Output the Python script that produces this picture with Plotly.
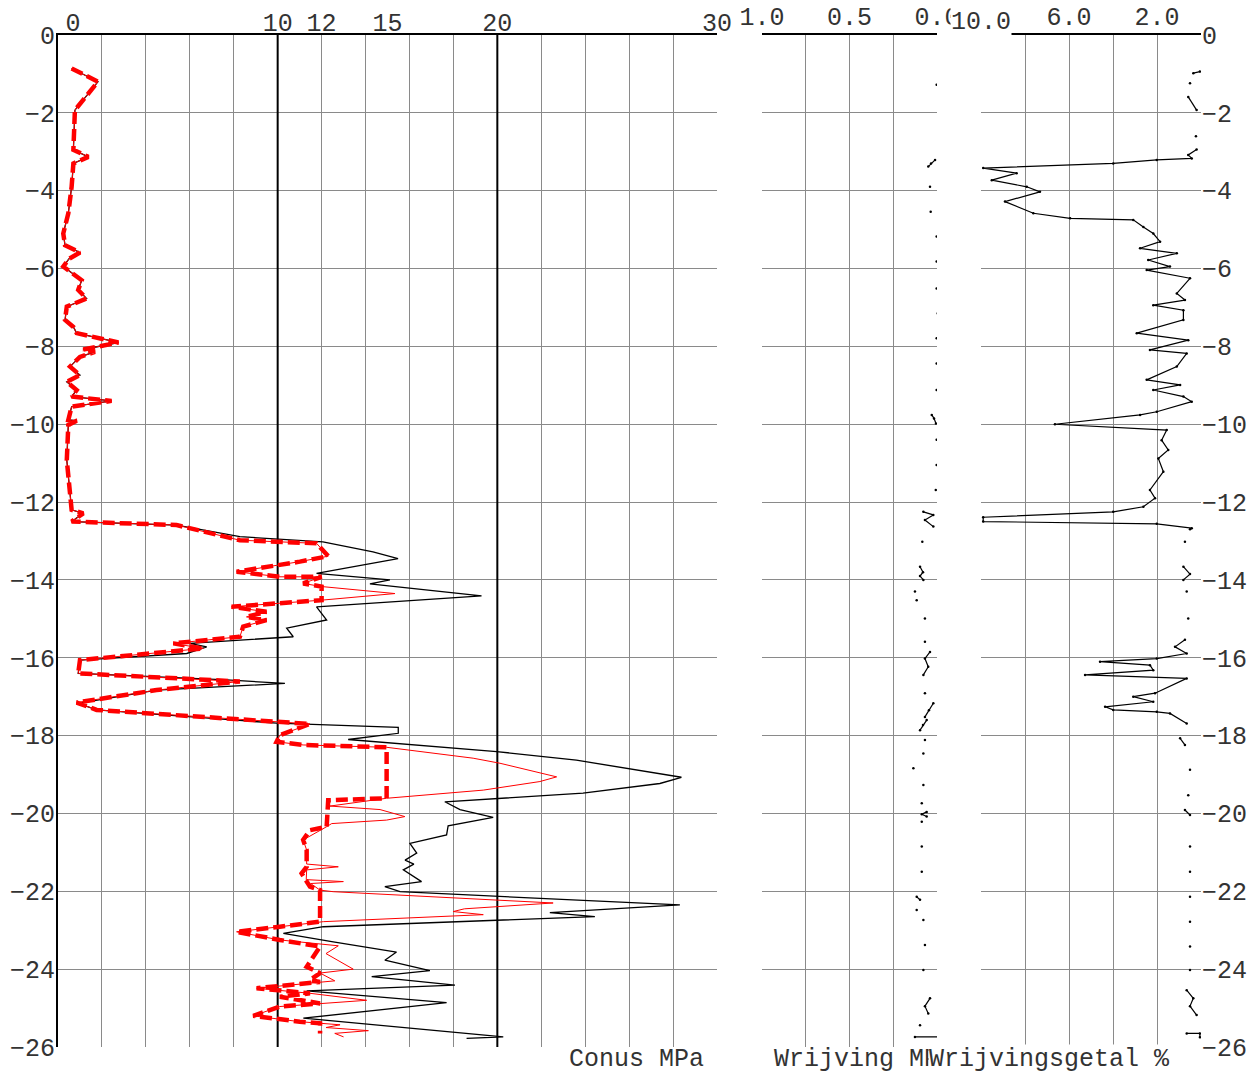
import plotly.graph_objects as go

# ---------------- data ----------------
# shared upper part of cone resistance (black + red dashed), depth m (positive down), MPa
up_depth = [0.86, 1.2, 1.93, 2.5, 2.95, 3.13, 3.3, 3.9, 4.58, 5.1, 5.4, 5.59, 5.75, 5.95, 6.21, 6.3,
            6.55, 6.77, 6.98, 7.32, 7.5, 7.66, 7.9, 8.08, 8.14, 8.27, 8.52, 8.74, 8.91, 9.12, 9.29,
            9.4, 9.55, 9.89, 9.91, 10.02, 10.92, 12.2, 12.29, 12.45, 12.5]
up_qc = [0.62, 1.82, 0.77, 0.72, 0.7, 1.38, 0.7, 0.62, 0.47, 0.24, 0.32, 1.0, 0.5, 0.24, 0.85, 1.08,
         0.92, 1.3, 0.4, 0.32, 0.7, 0.85, 2.75, 1.15, 1.68, 1.0, 0.55, 1.0, 0.4, 0.85, 0.62,
         2.44, 0.62, 0.47, 0.85, 0.47, 0.4, 0.62, 1.15, 0.7, 0.62]

# black cone resistance, lower part
qc_depth = [12.59, 12.89, 13.02, 13.28, 13.45, 13.83, 14.0, 14.1, 14.41, 14.69, 15.03, 15.24, 15.46,
            15.63, 15.72, 15.89, 16.06, 16.4, 16.57, 16.66, 16.83, 17.17, 17.34, 17.68, 17.79, 17.94,
            18.1, 18.41, 18.63, 18.93, 19.07, 19.23, 19.48, 19.7, 19.9, 20.1, 20.32, 20.55, 20.77,
            21.02, 21.2, 21.3, 21.45, 21.75, 21.88, 22.01, 22.35, 22.55, 22.65, 22.91, 23.08, 23.3,
            23.56, 23.77, 24.04, 24.19, 24.41, 24.56, 24.86, 25.26, 25.74, 25.78]
qc_val = [5.4, 8.28, 12.06, 14.34, 15.48, 11.77, 15.11, 14.2, 19.28, 11.77, 12.23, 10.41, 10.71,
          6.0, 6.77, 5.86, 1.0, 0.92, 7.68, 10.33, 4.49, 0.92, 1.76, 9.95, 15.49, 15.49,
          13.21, 19.97, 23.6, 26.8, 28.38, 27.4, 23.9, 17.61, 18.3, 19.81, 17.76, 17.69, 16.02,
          16.33, 15.8, 16.2, 15.72, 16.55, 14.88, 15.57, 28.31, 22.39, 24.44, 12.08, 10.26, 12.53,
          15.41, 14.88, 16.93, 14.28, 18.07, 11.32, 17.69, 11.17, 20.27, 18.6]

# red dashed (limited cone resistance), lower part
qd_depth = [12.59, 12.98, 13.06, 13.39, 13.53, 13.79, 13.92, 13.92, 14.09, 14.17, 14.52, 14.69, 14.82,
            14.95, 15.03, 15.2, 15.46, 15.63, 15.76, 16.06, 16.4, 16.61, 16.83, 17.15, 17.34, 17.7,
            17.86, 17.99, 18.16, 18.24, 18.3, 19.61, 19.66, 20.34, 20.43, 20.68, 20.94, 21.37, 21.54,
            21.88, 21.97, 22.78, 22.91, 23.04, 23.25, 23.42, 23.94, 24.1, 24.28, 24.33, 24.49, 24.62,
            24.71, 24.88, 24.96, 25.2, 25.35, 25.39, 25.65]
qd_val = [5.4, 8.28, 11.77, 12.3, 11.01, 8.13, 10.1, 12.0, 11.16, 12.0, 12.0, 7.9, 9.49,
          8.58, 9.49, 8.43, 8.28, 5.25, 6.61, 1.0, 0.92, 8.28, 4.49, 0.85, 1.76, 11.47,
          10.71, 10.1, 9.95, 11.16, 14.96, 14.96, 12.3, 12.23, 11.47, 11.16, 11.32, 11.32, 11.09,
          11.47, 11.93, 11.93, 10.1, 8.13, 10.1, 11.93, 11.32, 11.93, 11.47, 11.93, 9.04, 11.47,
          10.1, 11.93, 10.1, 8.89, 11.01, 11.93, 11.93]

# red thin (corrected cone resistance), lower part
qt_depth = [12.59, 12.98, 13.06, 13.39, 13.53, 13.79, 13.92, 13.92, 14.09, 14.17, 14.35, 14.52, 14.69,
            14.82, 14.95, 15.03, 15.2, 15.46, 15.63, 15.76, 16.06, 16.4, 16.61, 16.83, 17.15, 17.34,
            17.7, 17.86, 17.99, 18.16, 18.24, 18.3, 18.58, 18.71, 18.88, 19.06, 19.18, 19.4, 19.61,
            19.81, 19.9, 20.08, 20.17, 20.26, 20.34, 20.68, 20.94, 21.3, 21.37, 21.45, 21.7, 21.75,
            21.8, 21.97, 22.01, 22.3, 22.45, 22.52, 22.6, 22.78, 22.91, 23.04, 23.25, 23.4, 23.6,
            24.0, 24.1, 24.3, 24.49, 24.62, 24.8, 24.96, 25.2, 25.35, 25.43, 25.5, 25.58, 25.65, 25.74]
qt_val = [5.4, 8.28, 11.77, 12.3, 11.01, 8.13, 10.1, 12.0, 11.16, 12.0, 15.34, 12.0, 7.9,
          9.49, 8.58, 9.49, 8.43, 8.28, 5.25, 6.61, 1.0, 0.92, 8.28, 4.49, 0.85, 1.76,
          11.47, 10.71, 10.1, 9.95, 11.16, 14.96, 18.9, 20.12, 21.33, 22.7, 21.94, 19.36, 14.96,
          12.38, 14.66, 15.79, 14.96, 12.46, 12.23, 11.16, 11.32, 11.32, 12.76, 11.32, 11.3, 12.99,
          11.5, 11.93, 12.53, 22.54, 18.5, 17.99, 19.36, 12.08, 10.1, 8.13, 10.1, 12.76, 12.2,
          13.44, 11.93, 12.6, 9.04, 11.47, 14.05, 10.1, 8.89, 11.01, 12.84, 12.2, 14.13, 12.6, 13.0]

# sleeve friction (Wrijving, MPa); None separates fragments
fr_depth = [1.28, None, 1.94, None, 2.6, None, 3.21, 3.3, 3.38, None, 3.9, None, 4.54, None, 5.18, None,
            5.82, None, 6.51, None, 7.15, None, 7.79, None, 8.44, None, 9.12, None, 9.76, 9.85, 9.98,
            None, 10.4, None, 11.05, None, 11.69, None, 12.25, 12.33, 12.46, 12.63, None, 13.02, None,
            13.66, 13.8, 13.9, 14.0, None, 14.3, None, 14.52, None, 14.99, None, 15.59, None,
            15.85, 16.02, 16.23, 16.44, None, 16.91, None, 17.17, 17.35, 17.52, None, 17.6, 17.73, 17.86,
            None, 18.11, None, 18.46, None, 18.84, None, 19.27, None, 19.74, None, 19.96, 20.02, 20.08,
            None, 20.21, None, 20.85, None, 21.5, None, 22.14, 22.22, None, 22.48, None, 22.74, None,
            23.38, None, 24.02, None, 24.75, 24.95, 25.14, None, 25.44, None, 25.74, 25.74, 25.82]
fr_val = [0.002, None, -0.011, None, -0.011, None, 0.011, 0.034, 0.05, None, 0.04, None, 0.036, None, 0.002, None,
          0.002, None, 0.002, None, -0.004, None, 0.002, None, 0.002, None, 0.002, None, 0.03, 0.017, 0.006,
          None, 0.002, None, 0.002, None, 0.007, None, 0.078, 0.021, 0.069, 0.021, None, 0.084, None,
          0.097, 0.08, 0.097, 0.078, None, 0.126, None, 0.116, None, 0.069, None, 0.069, None,
          0.04, 0.069, 0.05, 0.078, None, 0.069, None, 0.021, 0.046, 0.069, None, 0.059, 0.08, 0.097,
          None, 0.069, None, 0.078, None, 0.135, None, 0.078, None, 0.087, None, 0.059, 0.087, 0.059,
          None, 0.087, None, 0.087, None, 0.087, None, 0.116, 0.097, None, 0.116, None, 0.078, None,
          0.069, None, 0.078, None, 0.04, 0.069, 0.05, None, 0.097, None, 0.126, -0.007, -0.008]

# friction ratio (Wrijvingsgetal, %)
rf_depth = [0.94, 0.98, None, 1.24, None, 1.59, 1.93, None, 2.6, None,
            2.94, 3.08, 3.17, 3.21, 3.3, 3.42, 3.55, 3.73, 3.9, 4.03, 4.28, 4.58, 4.71, 4.75, 4.93,
            5.1, 5.31, 5.48, 5.61, 5.78, 5.95, 6.04, 6.25, 6.64, 6.81, 6.94, 7.07, 7.32, 7.66, 7.84,
            8.09, 8.18, 8.52, 8.86, 8.99, 9.12, 9.29, 9.42, 9.68, 9.76, 10.0, 10.15, 10.41, 10.66,
            10.88, 11.22, 11.69, 11.9, 12.12, 12.25, 12.39, 12.5, 12.56, 12.67, 12.7, None,
            13.02, None, 13.66, 13.85, 14.0, None, 14.3, None, 14.99, None,
            15.54, 15.72, 15.89, 16.02, 16.1, 16.19, 16.32, 16.44, 16.53, 16.91, 17.0, 17.13, 17.26,
            17.34, 17.39, 17.43, 17.69, None, 18.07, 18.24, None, 18.88, None, 19.53, None,
            19.91, 20.04, None, 20.85, None, 21.5, None, 22.14, None, 22.78, None, 23.42, None,
            24.02, None, 24.54, 24.75, 24.95, 25.18, None, 25.65, 25.65, 25.75]
rf_val = [0.05, 0.35, None, 0.5, None, 0.58, 0.2, None, 0.23, None,
          0.2, 0.58, 0.42, 2.01, 3.99, 9.9, 8.38, 9.51, 7.92, 7.32, 8.91, 7.62, 5.95, 3.08, 2.62,
          2.17, 1.86, 2.77, 1.1, 2.4, 1.41, 2.47, 0.5, 1.1, 0.73, 2.17, 0.8, 0.8, 2.92, 0.58,
          2.32, 0.65, 1.1, 2.47, 0.95, 2.17, 0.8, 0.42, 2.01, 2.77, 6.64, 1.56, 1.79, 1.49,
          1.94, 1.71, 2.32, 2.09, 2.62, 3.99, 9.9, 9.9, 2.01, 0.42, 0.5, None,
          0.73, None, 0.8, 0.5, 0.8, None, 0.65, None, 0.58, None,
          0.73, 1.18, 0.65, 2.01, 4.59, 2.32, 2.17, 5.27, 0.65, 2.09, 3.08, 2.17, 4.36,
          3.99, 2.01, 1.41, 0.65, None, 0.95, 0.73, None, 0.5, None, 0.58, None,
          0.73, 0.5, None, 0.5, None, 0.5, None, 0.5, None, 0.5, None, 0.5, None,
          0.5, None, 0.65, 0.35, 0.5, 0.2, None, 0.65, 0.05, 0.05]

depth_ticks = list(range(0, -27, -2))
qc_tick_vals = [0, 10, 12, 15, 20, 30]
qc_tick_text = ["\u00a0\u00a00", "10", "12", "15", "20", "30"]
fr_tick_vals = [1.0, 0.75, 0.5, 0.25, 0.0]
fr_tick_text = ["1.0", "", "0.5", "", "0.0"]
rf_tick_vals = [10, 8, 6, 4, 2, 0]
rf_tick_text = ["", "", "6.0", "", "2.0", ""]


def neg(lst):
    return [None if v is None else -v for v in lst]


W, H = 1253, 1075
FONT = "Liberation Mono"
GRID = "#8a8a8a"

fig = go.Figure()

# black cone resistance
fig.add_trace(go.Scatter(x=up_qc + qc_val, y=neg(up_depth + qc_depth), mode="lines",
                         line=dict(color="black", width=1.3), xaxis="x", yaxis="y", showlegend=False))
# red thin
fig.add_trace(go.Scatter(x=up_qc + qt_val, y=neg(up_depth + qt_depth), mode="lines",
                         line=dict(color="#ff0000", width=1), xaxis="x", yaxis="y", showlegend=False))
# red dashed
fig.add_trace(go.Scatter(x=up_qc + qd_val, y=neg(up_depth + qd_depth), mode="lines",
                         line=dict(color="#ff0000", width=4.5, dash="12px,5px"),
                         xaxis="x", yaxis="y", showlegend=False))
# dummy for overlay label axis
fig.add_trace(go.Scatter(x=[None], y=[None], xaxis="x4", yaxis="y", showlegend=False))
# friction
fig.add_trace(go.Scatter(x=fr_val, y=neg(fr_depth), mode="lines+markers",
                         line=dict(color="black", width=1.2), marker=dict(color="black", size=2.5),
                         xaxis="x2", yaxis="y2", showlegend=False, connectgaps=False))
# friction ratio
fig.add_trace(go.Scatter(x=rf_val, y=neg(rf_depth), mode="lines+markers",
                         line=dict(color="black", width=1.2), marker=dict(color="black", size=2.5),
                         xaxis="x3", yaxis="y3", showlegend=False, connectgaps=False))


def px_x(p):
    return p / W


def px_y(p):
    return 1 - p / H


ydom = [px_y(1047), px_y(35)]
tickfont = dict(family=FONT, size=25, color="#333333")

common_x = dict(side="top", showgrid=True, gridcolor=GRID, gridwidth=1, ticks="", zeroline=False,
                showline=True, linecolor="black", linewidth=2, tickfont=tickfont,
                ticklabelstandoff=-2, automargin=False)

fig.update_layout(
    width=W, height=H, margin=dict(l=0, r=0, t=0, b=0, autoexpand=False),
    paper_bgcolor="white", plot_bgcolor="white",
    xaxis=dict(domain=[px_x(58), px_x(717)], range=[0, 30], anchor="y", tickmode="linear",
               tick0=0, dtick=2, showticklabels=False,
               **{k: v for k, v in common_x.items() if k not in ("tickfont", "ticklabelstandoff")}),
    xaxis4=dict(overlaying="x", anchor="y", side="top", range=[0, 30], tickmode="array",
                tickvals=qc_tick_vals, ticktext=qc_tick_text, showgrid=False, showline=False,
                ticks="", zeroline=False, tickfont=tickfont, ticklabelstandoff=-2, automargin=False),
    xaxis2=dict(domain=[px_x(762), px_x(937)], range=[1.0, 0.0], anchor="y2", tickmode="array",
                tickvals=fr_tick_vals, ticktext=fr_tick_text, **common_x),
    xaxis3=dict(domain=[px_x(981), px_x(1201)], range=[10, 0], anchor="y3", tickmode="array",
                tickvals=rf_tick_vals, ticktext=rf_tick_text, **common_x),
    yaxis=dict(domain=ydom, range=[-26, 0], anchor="x", tickmode="array", tickvals=depth_ticks,
               showgrid=True, gridcolor=GRID, gridwidth=1, zeroline=False, ticks="",
               showline=True, linecolor="black", linewidth=2, tickfont=tickfont,
               ticklabelstandoff=-4, automargin=False),
    yaxis2=dict(domain=ydom, range=[-26, 0], anchor="x2", matches="y", tickmode="array",
                tickvals=depth_ticks, showgrid=True, gridcolor=GRID, gridwidth=1, zeroline=False,
                ticks="", showticklabels=False, showline=False, automargin=False),
    yaxis3=dict(domain=ydom, range=[-26, 0], anchor="x3", matches="y", side="right",
                tickmode="array", tickvals=depth_ticks, showgrid=True, gridcolor=GRID, gridwidth=1,
                zeroline=False, ticks="", showline=False, tickfont=tickfont, ticklabelstandoff=0,
                automargin=False),
)

# bold reference lines at 10 and 20 MPa
for xv in (10, 20):
    fig.add_shape(type="line", xref="x", yref="y", x0=xv, x1=xv, y0=-26, y1=0,
                  line=dict(color="black", width=2), layer="between")

anno_font = dict(family=FONT, size=25, color="#333333")
fig.add_annotation(text="10.0", xref="x3", yref="paper", x=10, y=px_y(22), showarrow=False,
                   font=tickfont, bgcolor="white", xanchor="center", yanchor="middle", borderpad=0)
fig.add_annotation(text="Conus MPa", xref="paper", yref="paper", x=px_x(706), y=px_y(1059),
                   showarrow=False, font=anno_font, xanchor="right", yanchor="middle")
fig.add_annotation(text="Wrijving MPa", xref="paper", yref="paper", x=px_x(772), y=px_y(1059),
                   showarrow=False, font=anno_font, xanchor="left", yanchor="middle")
fig.add_annotation(text="Wrijvingsgetal %", xref="paper", yref="paper", x=px_x(928), y=px_y(1059),
                   showarrow=False, font=anno_font, xanchor="left", yanchor="middle",
                   bgcolor="white", borderpad=0)

fig.write_html("out.html", config={"displayModeBar": False},
               post_script="document.body.style.margin='0';document.body.style.overflow='hidden';")
